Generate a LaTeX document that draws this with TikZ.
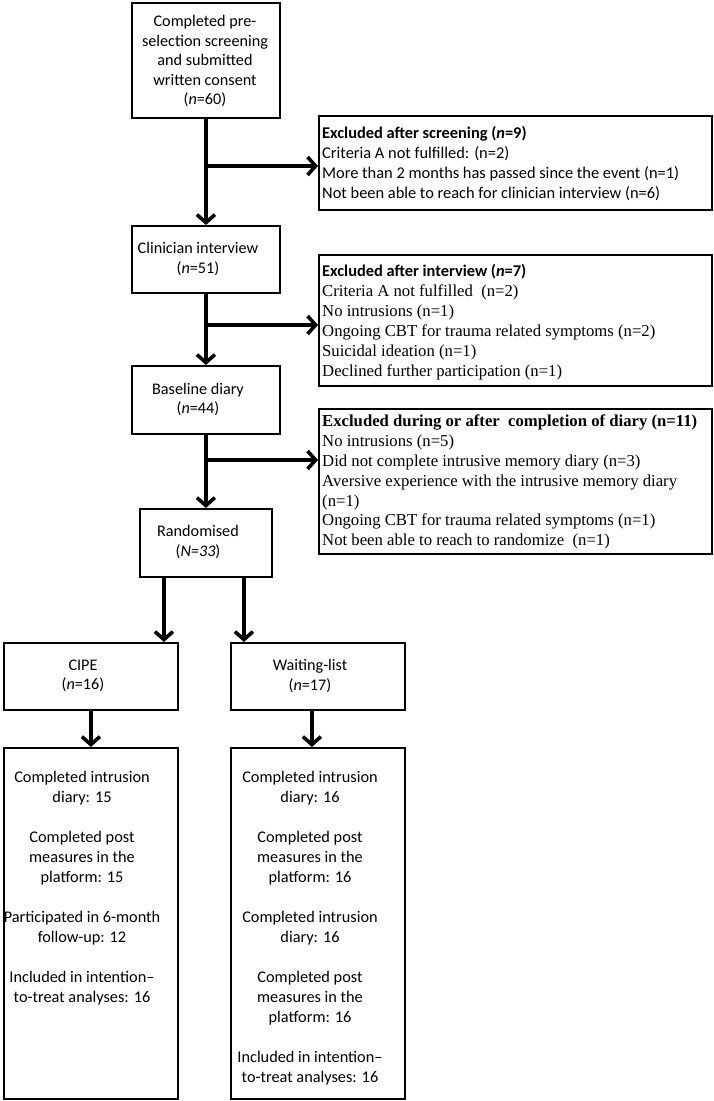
\documentclass[tikz,border=0pt]{standalone}
\usepackage{fontspec}
\setmainfont{Carlito}
\newfontfamily\tms{Liberation Serif}
\usetikzlibrary{arrows.meta}
\begin{document}
\begin{tikzpicture}[x=1pt,y=-1pt,
  box/.style={draw, line width=1.8pt, inner sep=0pt, anchor=north west},
  ctxt/.style={inner sep=0pt, align=center, font=\fontsize{16.2}{19.5}\selectfont},
  ltxt/.style={inner sep=0pt, align=left, anchor=north west, font=\fontsize{16.4}{20}\selectfont},
  flow/.style={line width=3.6pt, -{Straight Barb[length=8pt,width=18pt]}},
]
\fill[white] (0,0) rectangle (714,1101);
\useasboundingbox (0,0) rectangle (714,1101);

% boxes
\node[box, minimum width=148pt, minimum height=115pt] (top) at (131,2) {};
\node[box, minimum width=148pt, minimum height=67pt] (clin) at (131,225) {};
\node[box, minimum width=148pt, minimum height=68pt] (base) at (131,365) {};
\node[box, minimum width=132pt, minimum height=68pt] (rand) at (139,508) {};
\node[box, minimum width=174pt, minimum height=67pt] (cipe) at (3,642) {};
\node[box, minimum width=174pt, minimum height=67pt] (wait) at (230,642) {};
\node[box, minimum width=174pt, minimum height=351pt] (cipel) at (3,747) {};
\node[box, minimum width=174pt, minimum height=351pt] (waitl) at (230,747) {};
\node[box, minimum width=393pt, minimum height=94pt] (ex1) at (318,115) {};
\node[box, minimum width=393pt, minimum height=131pt] (ex2) at (318,254) {};
\node[box, minimum width=393pt, minimum height=145pt] (ex3) at (318,408) {};

% texts
\node[ctxt] (ttop) at (205,61) {Completed pre-\\selection screening\\and submitted\\written consent\\(\textit{n}=60)};
\node[ctxt] (tclin) at (198,259) {Clinician interview\\(\textit{n}=51)};
\node[ctxt] (tbase) at (198,399.5) {Baseline diary\\(\textit{n}=44)};
\node[ctxt] (trand) at (198,542) {Randomised\\(\textit{N=33})};
\node[ctxt] (tcipe) at (83,676) {CIPE\\(\textit{n}=16)};
\node[ctxt] (twait) at (310,676) {Waiting-list\\(\textit{n}=17)};
\node[ctxt, font=\fontsize{16.3}{20}\selectfont] (tcipel) at (82,888) {Completed intrusion\\diary: 15\\[20pt]Completed post\\measures in the\\platform: 15\\[20pt]Participated in 6-month\\follow-up: 12\\[20pt]Included in intention–\\to-treat analyses: 16};
\node[ctxt, font=\fontsize{16.3}{20}\selectfont] (twaitl) at (310,928) {Completed intrusion\\diary: 16\\[20pt]Completed post\\measures in the\\platform: 16\\[20pt]Completed intrusion\\diary: 16\\[20pt]Completed post\\measures in the\\platform: 16\\[20pt]Included in intention–\\to-treat analyses: 16};

\node[ltxt] (tex1) at (322,126) {\textbf{Excluded after screening (\textit{n}=9)}\\Criteria A not fulfilled: (n=2)\\More than 2 months has passed since the event (n=1)\\Not been able to reach for clinician interview (n=6)};
\node[ltxt] (tex2) at (322,264) {\textbf{Excluded after interview (\textit{n}=7)}\\{\tms\fontsize{16.7}{20}\selectfont Criteria A not fulfilled\ \ (n=2)}\\{\tms\fontsize{16.7}{20}\selectfont No intrusions (n=1)}\\{\tms\fontsize{16.7}{20}\selectfont Ongoing CBT for trauma related symptoms (n=2)}\\{\tms\fontsize{16.7}{20}\selectfont Suicidal ideation (n=1)}\\{\tms\fontsize{16.7}{20}\selectfont Declined further participation (n=1)}};
\node[ltxt, font=\tms\fontsize{16.7}{19.8}\selectfont] (tex3) at (322,415) {\textbf{Excluded during or after\ \ completion of diary (n=11)}\\No intrusions (n=5)\\Did not complete intrusive memory diary (n=3)\\Aversive experience with the intrusive memory diary\\(n=1)\\Ongoing CBT for trauma related symptoms (n=1)\\Not been able to reach to randomize\ \ (n=1)};

% connectors
\coordinate (b1) at (205,166);
\coordinate (b2) at (205,325);
\coordinate (b3) at (205,460);
\draw[flow] (top.south) -- (clin.north);
\draw[flow] (b1) -- (b1 -| ex1.west);
\draw[flow] (clin.south) -- (base.north);
\draw[flow] (b2) -- (b2 -| ex2.west);
\draw[flow] (base.south) -- (rand.north);
\draw[flow] (b3) -- (b3 -| ex3.west);
\draw[flow] ([xshift=-42pt]rand.south) -- ([xshift=-42pt]rand.south |- cipe.north);
\draw[flow] ([xshift=38pt]rand.south) -- ([xshift=38pt]rand.south |- wait.north);
\draw[flow] (cipe.south) -- (cipel.north);
\draw[flow] ([xshift=-6pt]wait.south) -- ([xshift=-6pt]waitl.north);
\end{tikzpicture}
\end{document}
